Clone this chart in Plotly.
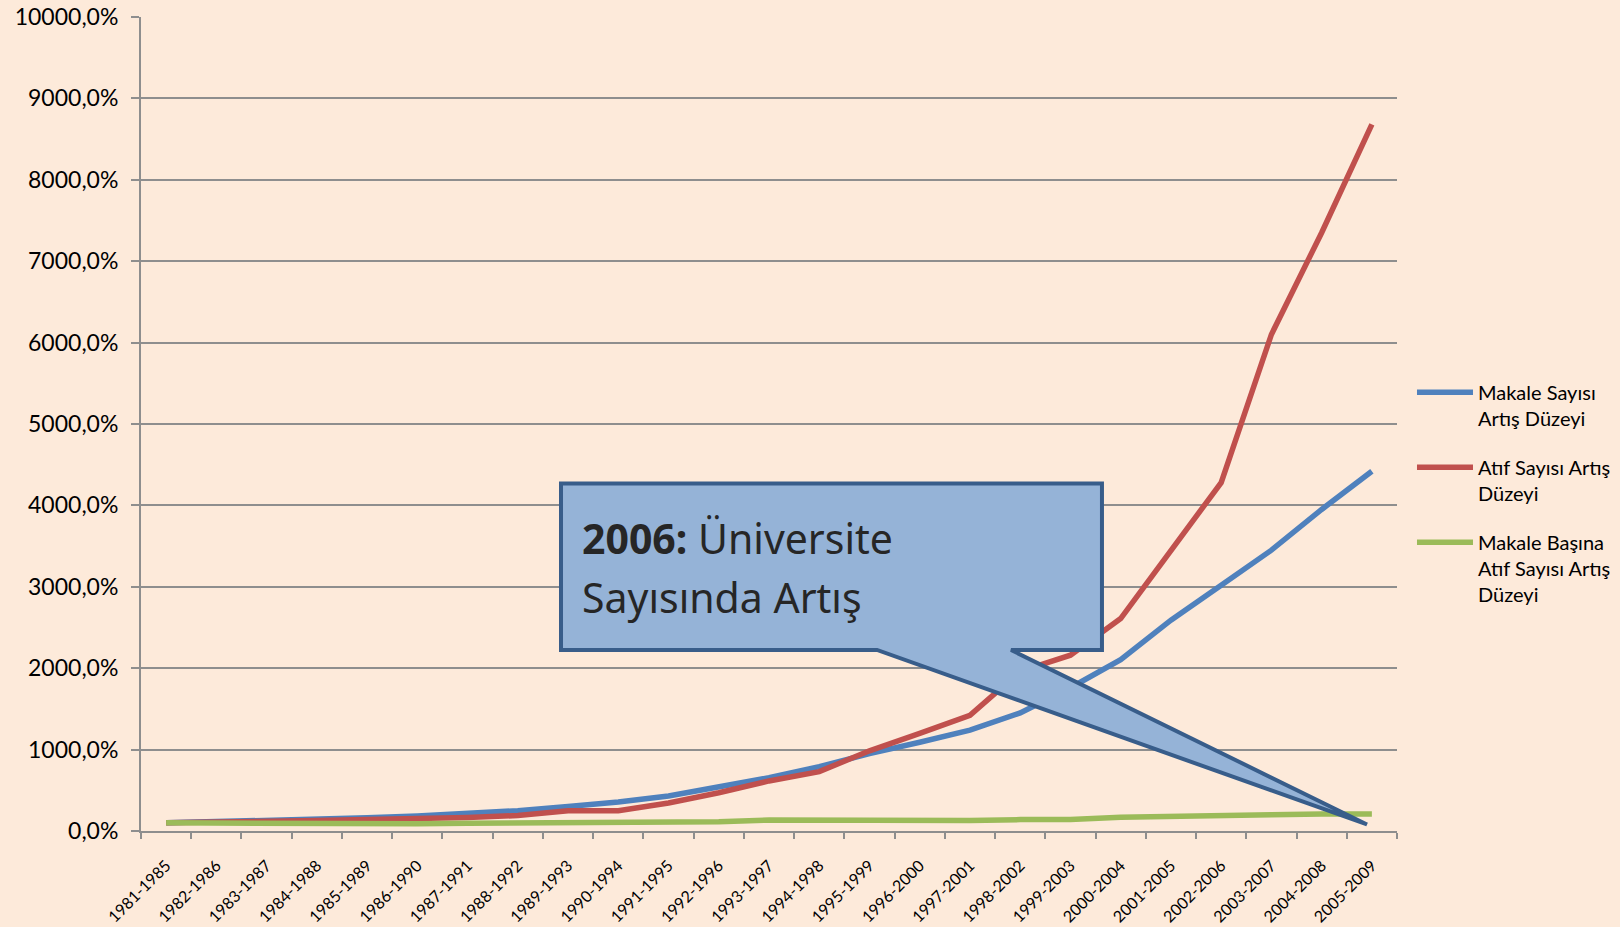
import plotly.graph_objects as go

# ─────────────────────────────────
# データ
# ─────────────────────────────────
PERIODS = [
    "1981-1985", "1982-1986", "1983-1987", "1984-1988", "1985-1989",
    "1986-1990", "1987-1991", "1988-1992", "1989-1993", "1990-1994",
    "1991-1995", "1992-1996", "1993-1997", "1994-1998", "1995-1999",
    "1996-2000", "1997-2001", "1998-2002", "1999-2003", "2000-2004",
    "2001-2005", "2002-2006", "2003-2007", "2004-2008", "2005-2009",
]

# Makale Sayısı Artış Düzeyi (%)
makale = [100, 112, 125, 140, 162, 185, 215, 250, 300, 355,
          430, 540, 655, 790, 950, 1090, 1240, 1450, 1760, 2105,
          2590, 3020, 3450, 3950, 4420]

# Atıf Sayısı Artış Düzeyi (%)
atif = [100, 105, 115, 130, 140, 150, 165, 190, 250, 250,
        345, 470, 615, 730, 985, 1200, 1420, 1960, 2160, 2610,
        3450, 4280, 6100, 7350, 8680]

# Makale Başına Atıf Sayısı Artış Düzeyi (%)
basina = [100, 95, 90, 100, 95, 90, 95, 100, 100, 95,
          105, 115, 135, 130, 135, 125, 130, 140, 140, 170,
          185, 185, 200, 210, 209]

SERIES = [
    ("Makale Sayısı<br>Artış Düzeyi", makale, "#4F81BD"),
    ("Atıf Sayısı Artış<br>Düzeyi", atif, "#C0504D"),
    ("Makale Başına<br>Atıf Sayısı Artış<br>Düzeyi", basina, "#9BBB59"),
]

BG = "#FDEADA"
GRID = "#8E8E8E"
FONT = "Lato, 'Noto Sans', sans-serif"

# ─────────────────────────────────
# 図
# ─────────────────────────────────
fig = go.Figure()
for i, (name, vals, color) in enumerate(SERIES):
    fig.add_trace(go.Scatter(
        x=PERIODS, y=vals, name=name, mode="lines",
        line=dict(color=color, width=5.5),
        legendgroup=f"g{i}",
    ))

# 吹き出し（paper座標）
L, R, T, B = 0.3344, 0.7651, 0.4269, 0.2224
P1, P2 = 0.5860, 0.6927
TIPX, TIPY = 0.9761, 0.0080
fig.add_shape(
    type="path", xref="paper", yref="paper",
    path=(f"M{L},{T} L{R},{T} L{R},{B} L{P2},{B} L{TIPX},{TIPY} "
          f"L{P1},{B} L{L},{B} Z"),
    fillcolor="#95B3D7", line=dict(color="#385D8A", width=4),
    layer="above",
)
CALLOUT_FONT = dict(family="'Noto Sans', sans-serif", size=41, color="#262626")
fig.add_annotation(
    xref="paper", yref="paper", x=0.3495, y=0.360,
    xanchor="left", yanchor="middle", showarrow=False,
    text="<b>2006:</b> Üniversite", font=CALLOUT_FONT,
)
fig.add_annotation(
    xref="paper", yref="paper", x=0.3495, y=0.2875,
    xanchor="left", yanchor="middle", showarrow=False,
    text="Sayısında Artış", font=CALLOUT_FONT,
)

fig.update_layout(
    width=1620, height=927,
    margin=dict(l=141, r=223, t=17, b=96),
    paper_bgcolor=BG, plot_bgcolor=BG,
    separators=",.",
    font=dict(family=FONT, color="#000000"),
    legend=dict(
        xref="container", x=0.8716, y=0.563, xanchor="left", yanchor="top",
        font=dict(size=20, family=FONT),
        valign="top", traceorder="grouped", tracegroupgap=20,
        itemwidth=56,
        bgcolor="rgba(0,0,0,0)",
    ),
)
fig.update_xaxes(
    type="category", range=[-0.5, len(PERIODS) - 0.5],
    tickangle=-45, tickson="boundaries", automargin=False,
    ticks="outside", ticklen=6, tickwidth=2, tickcolor=GRID,
    ticklabelstandoff=17,
    showline=True, linecolor=GRID, linewidth=2,
    showgrid=False, tickfont=dict(size=16),
)
fig.update_yaxes(
    range=[0, 10000], dtick=1000, tickformat=".1f", ticksuffix="%",
    automargin=False,
    ticks="outside", ticklen=8, tickwidth=2, tickcolor=GRID,
    ticklabelstandoff=8,
    showline=True, linecolor=GRID, linewidth=2,
    showgrid=True, gridcolor=GRID, gridwidth=2, zeroline=False,
    tickfont=dict(size=23),
)

fig.write_html("out.html", config={"displayModeBar": False},
               post_script="document.body.style.margin='0';")
